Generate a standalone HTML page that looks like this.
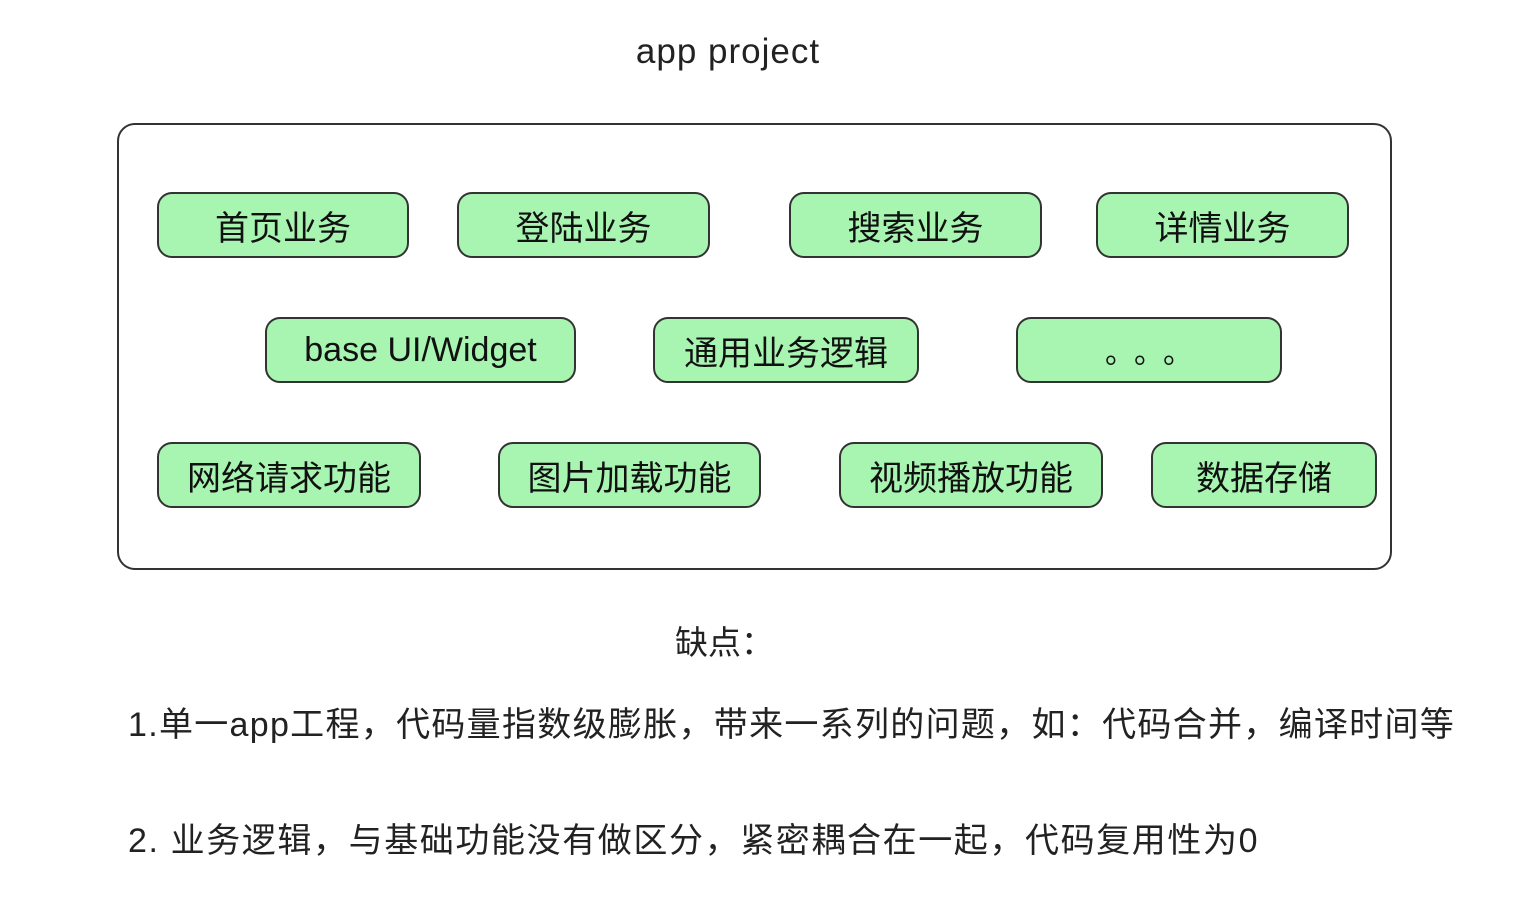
<!DOCTYPE html>
<html><head><meta charset="utf-8"><style>
body{margin:0;width:1536px;height:922px;background:#fff;position:relative;overflow:hidden;font-family:"Liberation Sans","Noto Sans CJK SC",sans-serif;color:#222}
.a{position:absolute;white-space:nowrap}
.outer{position:absolute;left:117px;top:123px;width:1271px;height:443px;border:2px solid #333;border-radius:18px}
.n{position:absolute;box-sizing:border-box;background:#a8f5b2;border:2px solid #333;border-radius:15px;display:flex;align-items:center;justify-content:center;font-size:34px;color:#111;height:66px}
</style></head><body>
<div class="a" style="left:0;width:1456px;text-align:center;top:32px;font-size:35px;letter-spacing:1px">app project</div>
<div class="outer"></div>
<div class="n" style="left:157px;top:192px;width:252px">首页业务</div>
<div class="n" style="left:457px;top:192px;width:253px">登陆业务</div>
<div class="n" style="left:789px;top:192px;width:253px">搜索业务</div>
<div class="n" style="left:1096px;top:192px;width:253px">详情业务</div>
<div class="n" style="left:265px;top:317px;width:311px">base UI/Widget</div>
<div class="n" style="left:653px;top:317px;width:266px">通用业务逻辑</div>
<div class="n" style="left:1016px;top:317px;width:266px;letter-spacing:14px;padding-left:14px;font-size:30px">。。。</div>
<div class="n" style="left:157px;top:442px;width:264px">网络请求功能</div>
<div class="n" style="left:498px;top:442px;width:263px">图片加载功能</div>
<div class="n" style="left:839px;top:442px;width:264px">视频播放功能</div>
<div class="n" style="left:1151px;top:442px;width:226px">数据存储</div>
<div class="a" style="left:675px;top:616px;font-size:33px">缺点：</div>
<div class="a" style="left:128px;top:697px;font-size:34px;letter-spacing:1.3px">1.单一app工程，代码量指数级膨胀，带来一系列的问题，如：代码合并，编译时间等</div>
<div class="a" style="left:128px;top:813px;font-size:34px;letter-spacing:1.6px">2. 业务逻辑，与基础功能没有做区分，紧密耦合在一起，代码复用性为0</div>
</body></html>
